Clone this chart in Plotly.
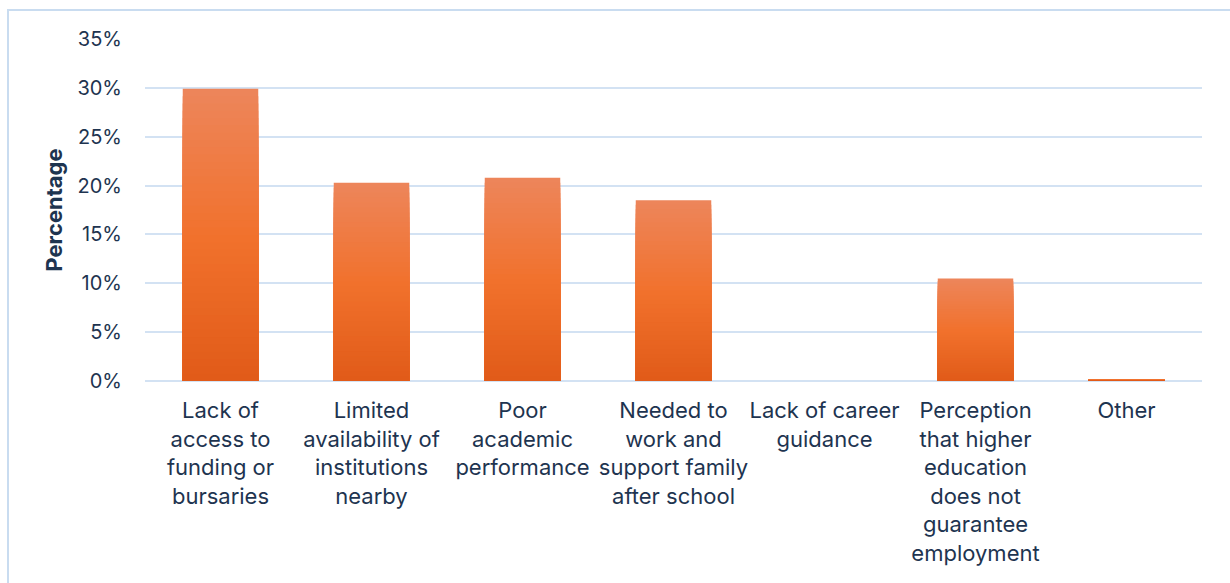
import plotly.graph_objects as go

categories = [
    "Lack of<br>access to<br>funding or<br>bursaries",
    "Limited<br>availability of<br>institutions<br>nearby",
    "Poor<br>academic<br>performance",
    "Needed to<br>work and<br>support family<br>after school",
    "Lack of career<br>guidance",
    "Perception<br>that higher<br>education<br>does not<br>guarantee<br>employment",
    "Other",
]
values = [29.9, 20.3, 20.8, 18.5, 0.0, 10.5, 0.2]
tick_vals = [0, 5, 10, 15, 20, 25, 30, 35]
tick_text = ["0%", "5%", "10%", "15%", "20%", "25%", "30%", "35%"]

top_rgb = (237, 133, 90)
mid_rgb = (241, 113, 44)
bot_rgb = (224, 90, 24)


def lerp(a, b, t):
    return tuple(round(a[i] + (b[i] - a[i]) * t) for i in range(3))


def grad_color(f):
    # f: 1 at top, 0 at bottom
    if f >= 0.5:
        c = lerp(mid_rgb, top_rgb, (f - 0.5) / 0.5)
    else:
        c = lerp(bot_rgb, mid_rgb, f / 0.5)
    return "rgb(%d,%d,%d)" % c


fig = go.Figure()
N = 40
for k in range(N):
    frac = 1 - k / N
    fig.add_trace(go.Bar(
        x=categories,
        y=[v * frac for v in values],
        marker=dict(color=grad_color(frac), line=dict(width=0)),
        width=0.5,
        hoverinfo="skip" if k else None,
        showlegend=False,
    ))

fig.update_layout(
    barmode="overlay",
    width=1230,
    height=583,
    margin=dict(l=145, r=28, t=39, b=202),
    paper_bgcolor="white",
    plot_bgcolor="white",
    font=dict(family="Inter, 'Noto Sans', sans-serif", color="#1E3450", size=20),
    xaxis=dict(
        showgrid=False,
        showline=False,
        ticks="",
        tickfont=dict(size=22),
        tickangle=0,
        ticklabelstandoff=14,
    ),
    yaxis=dict(
        range=[0, 35],
        tickvals=tick_vals,
        ticktext=tick_text,
        showgrid=True,
        gridcolor="#D3E2F3",
        gridwidth=2,
        zeroline=True,
        zerolinecolor="#D3E2F3",
        zerolinewidth=2,
        ticks="",
        ticklabelstandoff=22,
        title=dict(text="<b>Percentage</b>", font=dict(size=22), standoff=8),
    ),
    shapes=[dict(
        type="rect", xref="paper", yref="paper",
        x0=(8 - 145) / 1057, x1=(1240 - 145) / 1057,
        y0=(381 - 600) / 342, y1=(381 - 10) / 342,
        line=dict(color="#C9DCF0", width=2), fillcolor="rgba(0,0,0,0)",
        layer="below",
    )],
)

fig.write_html("out.html")
